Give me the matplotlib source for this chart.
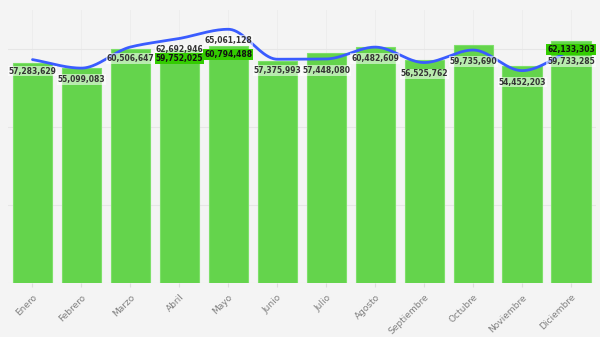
import numpy as np
import matplotlib.pyplot as plt

meses = ["Enero", "Febrero", "Marzo", "Abril", "Mayo", "Junio", "Julio",
         "Agosto", "Septiembre", "Octubre", "Noviembre", "Diciembre"]
barras = [56400000, 55100000, 60000000, 59752025, 60794488, 56900000,
          59000000, 60500000, 57200000, 61000000, 55600000, 62133303]
linea = [57283629, 55099083, 60506647, 62692946, 65061128, 57375993,
         57448080, 60482609, 56525762, 59735690, 54452203, 59733285]
# etiquetas de barras que se ven (las otras quedan tapadas)
barras_visibles = [3, 4, 11]


def monotone(x, y, n=40):
    # curva suave monotona (Fritsch-Carlson), solo para dibujar
    x = np.asarray(x, float)
    y = np.asarray(y, float)
    h = np.diff(x)
    d = np.diff(y) / h
    m = np.zeros_like(y)
    m[0], m[-1] = d[0], d[-1]
    for i in range(1, len(y) - 1):
        if d[i - 1] * d[i] <= 0:
            m[i] = 0
        else:
            m[i] = 2 / (1 / d[i - 1] + 1 / d[i])
    xs, ys = [], []
    for i in range(len(x) - 1):
        t = np.linspace(0, 1, n)
        h00 = 2 * t**3 - 3 * t**2 + 1
        h10 = t**3 - 2 * t**2 + t
        h01 = -2 * t**3 + 3 * t**2
        h11 = t**3 - t**2
        xs.append(x[i] + t * h[i])
        ys.append(h00 * y[i] + h10 * h[i] * m[i] + h01 * y[i + 1] + h11 * h[i] * m[i + 1])
    return np.concatenate(xs), np.concatenate(ys)


fig = plt.figure(figsize=(6, 3.37), dpi=100, facecolor="#f4f4f4")
ax = fig.add_axes([8 / 600, 54 / 337, 587.5 / 600, 273 / 337])
ax.set_facecolor("#f4f4f4")

x = np.arange(len(meses))
ax.bar(x, barras, width=0.8, color="#64d44c", edgecolor="#7ee06a", linewidth=0.8, zorder=2)

cx, cy = monotone(x, linea)
ax.plot(cx, cy, color="#3a5cff", lw=2, zorder=3, solid_capstyle="round")

lbl = dict(family="DejaVu Sans", fontsize=5.5, fontweight="bold")
for i, v in enumerate(linea):
    ax.annotate(f"{v:,}", (i, v), xytext=(0, -5), textcoords="offset points",
                ha="center", va="top", color="#333333", zorder=5,
                bbox=dict(boxstyle="square,pad=0.1", fc="white", ec="none", alpha=0.55), **lbl)
for i in barras_visibles:
    ax.annotate(f"{barras[i]:,}", (i, barras[i]), xytext=(0, -3), textcoords="offset points",
                ha="center", va="top", color="#111111", zorder=6,
                bbox=dict(boxstyle="square,pad=0.1", fc="#33cc00", ec="none"), **lbl)

ax.set_xlim(-0.5, 11.5)
ax.set_ylim(0, 70000000)
ax.set_yticks([0, 20000000, 40000000, 60000000])
ax.set_yticklabels([])
ax.tick_params(axis="y", length=0)
ax.set_xticks(x)
ax.set_xticklabels(meses, rotation=45, ha="right", rotation_mode="anchor",
                   fontsize=6.5, color="#808080")
ax.tick_params(axis="x", length=3, color="#dddddd", pad=4)
ax.grid(axis="y", color="#e6e6e6", lw=0.8, zorder=0)
ax.grid(axis="x", color="#ececec", lw=0.6, zorder=0)
ax.set_axisbelow(True)
for s in ax.spines.values():
    s.set_visible(False)

fig.savefig("out.png", dpi=100, facecolor=fig.get_facecolor())
